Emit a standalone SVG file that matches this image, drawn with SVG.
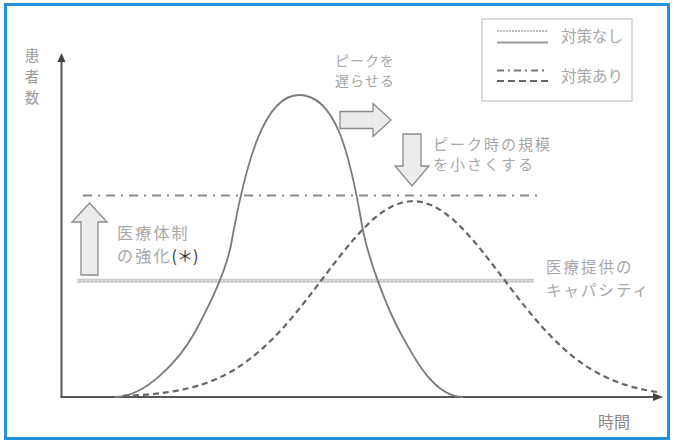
<svg xmlns="http://www.w3.org/2000/svg" width="674" height="442" viewBox="0 0 674 442">
<style>
text{font-family:"Noto Sans CJK JP","Noto Sans",sans-serif;fill:#a8a8a8}
.ax{stroke:#555;stroke-width:2;fill:none}
.solid{stroke:#7a7a7a;stroke-width:1.8;fill:none}
.dash{stroke:#666;stroke-width:2.2;fill:none;stroke-dasharray:6 4}
.dashdot{stroke:#8a8a8a;stroke-width:2;fill:none;stroke-dasharray:9 6 2 6}
.blk{fill:#ececec;stroke:#8a8a8a;stroke-width:1.3}
</style>
<rect x="5.5" y="4.5" width="663" height="434" fill="#fff" stroke="#2391d8" stroke-width="3"/>

<g id="axes">
<line class="ax" x1="61.5" y1="60" x2="61.5" y2="397"/>
<line class="ax" x1="60.5" y1="397" x2="655" y2="397"/>
<polygon points="61.5,53 57.5,62 65.5,62" fill="#444"/>
<polygon points="663,397 653,393 653,401" fill="#444"/>
<text x="32" y="61" text-anchor="middle" font-size="14.5" style="fill:#999">患</text>
<text x="32" y="82" text-anchor="middle" font-size="14.5" style="fill:#999">者</text>
<text x="32" y="103" text-anchor="middle" font-size="14.5" style="fill:#999">数</text>
<text x="614" y="428" text-anchor="middle" font-size="16" style="fill:#8a8a8a">時間</text>
</g>

<g id="levels">
<line x1="77" y1="280.7" x2="534" y2="280.7" stroke="#cacaca" stroke-width="4"/>
<line x1="77" y1="280.7" x2="534" y2="280.7" stroke="#e8e8e8" stroke-width="1" stroke-dasharray="2 2"/>
<line class="dashdot" x1="83" y1="195.5" x2="542" y2="195.5"/>
</g>

<g id="curves">
<path id="curve-none" class="solid" d="M115,397 C145,397 179,361 195,332 C208,308 225,275 231,245 C246,160 265,95 299,95 C336,95 350,155 362,225 C368,260 388,310 400,332 C412,354 433,397 463,397"/>
<polyline id="curve-measures" class="dash" points="123,395.9 133,395.5 143,394.8 153,394 163,392.9 173,391.4 183,389.5 193,387.1 203,384.1 213,380.4 223,375.9 233,370.5 243,364.1 253,356.6 263,348.1 273,338.5 283,328 293,316.4 303,304.1 313,291.3 323,278.1 333,265 343,252.2 353,240.1 363,229 373,219.4 383,211.6 393,205.8 403,202.2 413,201 423,202.2 433,205.8 443,211.6 453,219.4 463,229 473,240.1 483,252.2 493,265 503,278.1 513,291.3 523,304.1 533,316.4 543,328 553,338.5 563,348.1 573,356.6 583,364.1 593,370.5 603,375.9 613,380.4 623,384.1 633,387.1 643,389.5 653,391.4 658,392.2"/>
</g>

<g id="delay">
<polygon class="blk" points="340,111.5 373,111.5 373,103.5 391,120 373,136.5 373,128.5 340,128.5"/>
<text font-size="14" letter-spacing="1"><tspan x="335" y="65.5">ピークを</tspan><tspan x="335" y="86">遅らせる</tspan></text>
</g>

<g id="reduce">
<polygon class="blk" points="403,134 421,134 421,166 429,166 412,186 395,166 403,166"/>
<text font-size="15" letter-spacing="2"><tspan x="433" y="150">ピーク時の規模</tspan><tspan x="433" y="169.5">を小さくする</tspan></text>
</g>

<g id="strengthen">
<polygon class="blk" points="89.5,203 107,222 98,222 98,275 81,275 81,222 72,222"/>
<text font-size="16" letter-spacing="2.2"><tspan x="117" y="239">医療体制</tspan><tspan x="117" y="261.5">の強化</tspan><tspan style="fill:#333" letter-spacing="0">(＊)</tspan></text>
</g>

<g id="capacity">
<text font-size="15.5" letter-spacing="2"><tspan x="546" y="273">医療提供の</tspan><tspan x="546" y="295.5">キャパシティ</tspan></text>
</g>

<g id="legend">
<rect x="482" y="19" width="150" height="82" fill="#fff" stroke="#cfcfcf" stroke-width="1.5"/>
<line x1="497" y1="31" x2="548" y2="31" stroke="#bbb" stroke-width="2" stroke-dasharray="2 1"/>
<line x1="497" y1="42.5" x2="548" y2="42.5" stroke="#999" stroke-width="2.2"/>
<line x1="497" y1="70.5" x2="548" y2="70.5" stroke="#777" stroke-width="2.2" stroke-dasharray="7 4 2 4"/>
<line x1="497" y1="81" x2="548" y2="81" stroke="#666" stroke-width="2.2" stroke-dasharray="7 4"/>
<text x="561" y="41.5" font-size="15.5">対策なし</text>
<text x="561" y="82" font-size="15.5">対策あり</text>
</g>
</svg>
